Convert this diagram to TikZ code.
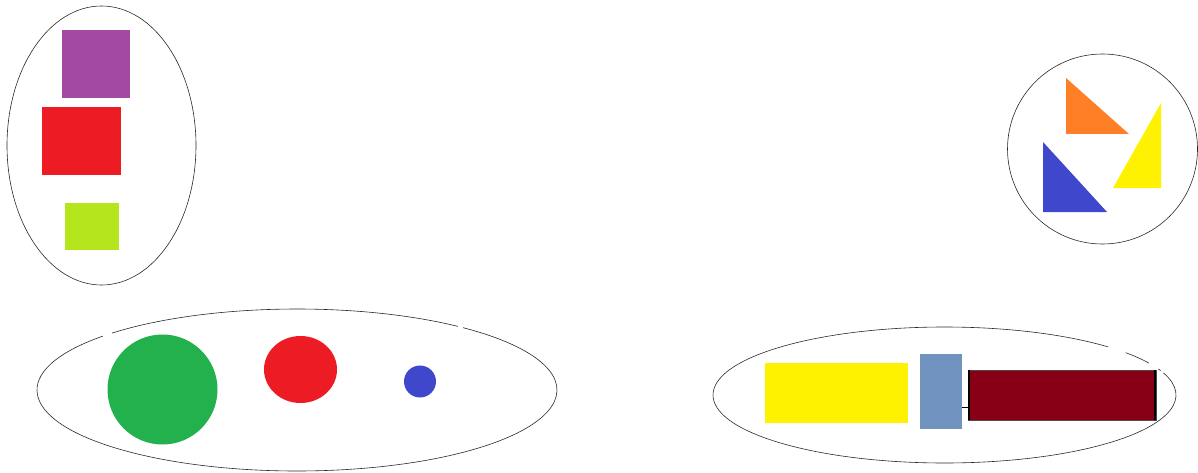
\documentclass[tikz,border=0pt]{standalone}
\usetikzlibrary{calc,shapes.geometric}
\definecolor{purple_color}{RGB}{163,73,164}
\definecolor{red_color}{RGB}{237,28,36}
\definecolor{lime_color}{RGB}{181,230,29}
\definecolor{orange_color}{RGB}{255,127,39}
\definecolor{yellow_color}{RGB}{255,242,0}
\definecolor{blue_color}{RGB}{63,72,204}
\definecolor{green_color}{RGB}{34,177,76}
\definecolor{steel_color}{RGB}{112,146,190}
\definecolor{wine_color}{RGB}{136,0,21}
\definecolor{rim_color}{RGB}{40,40,40}
\tikzset{
  blob/.style={inner sep=0pt, outer sep=0pt, draw=none},
  boxshape/.style={blob, rectangle},
  disc/.style={blob, circle},
  oval/.style={blob, ellipse},
  rim/.style={draw=rim_color, line width=0.6pt},
  edgebar/.style={line width=2.4pt, black}
}
\begin{document}
\begin{tikzpicture}[x=1pt, y=1pt]
\useasboundingbox (0,0) rectangle (1198,472);

% top left group
\draw[rim] (101.5,326.5) ellipse[x radius=94.5, y radius=139.5];
\node[boxshape, fill=purple_color, minimum width=68pt, minimum height=68pt] (purplebox) at (96,408) {};
\node[boxshape, fill=red_color, minimum width=79pt, minimum height=68pt] (redbox) at (81.5,331) {};
\node[boxshape, fill=lime_color, minimum width=54pt, minimum height=47pt] (limebox) at (92,245.5) {};

% top right group
\draw[rim] (1102.5,323) circle[radius=95];
\fill[orange_color] (1066,394) -- (1066,338) -- (1129,338) -- cycle;
\fill[yellow_color] (1161,369) -- (1161,284) -- (1113,284) -- cycle;
\fill[blue_color] (1043,330) -- (1043,260) -- (1107,260) -- cycle;

% bottom left group
\coordinate (leftoval) at (297,82);
\draw[rim] ($(leftoval)+(138.3:260 and 81)$) arc[start angle=138.3, end angle=410.3, x radius=260, y radius=81];
\draw[rim] ($(leftoval)+(51.8:260 and 81)$) arc[start angle=51.8, end angle=135.4, x radius=260, y radius=81];
\node[disc, fill=green_color, minimum size=110pt] (greendisc) at (162.5,82.5) {};
\node[oval, fill=red_color, minimum width=73pt, minimum height=67pt] (reddisc) at (300.5,102.5) {};
\node[disc, fill=blue_color, minimum size=32pt] (bluedisc) at (420,90.5) {};

% bottom right group
\coordinate (rightoval) at (944.5,77);
\draw[rim] ($(rightoval)+(45:231.5 and 68)$) arc[start angle=45, end angle=379, x radius=231.5, y radius=68];
\draw[rim] ($(rightoval)+(28:231.5 and 68)$) arc[start angle=28, end angle=38.5, x radius=231.5, y radius=68];
\draw[rim] ($(rightoval)+(21:231.5 and 68)$) arc[start angle=21, end angle=22.5, x radius=231.5, y radius=68];
\node[boxshape, fill=yellow_color, minimum width=143pt, minimum height=60pt] (yellowbar) at (836.5,79) {};
\node[boxshape, fill=steel_color, minimum width=42pt, minimum height=75pt] (steelbar) at (941,80.5) {};
\node[boxshape, fill=wine_color, draw=black!70, line width=0.4pt, minimum width=188pt, minimum height=50pt] (winebar) at (1062,77) {};
\draw[edgebar] ($(winebar.south west)+(1.2,0)$) -- ($(winebar.north west)+(1.2,0)$);
\draw[edgebar] ($(winebar.south east)+(-1.2,0)$) -- ($(winebar.north east)+(-1.2,0)$);
\draw[line width=0.8pt] (steelbar.east |- 0,65) -- (winebar.west |- 0,65);

\end{tikzpicture}
\end{document}
